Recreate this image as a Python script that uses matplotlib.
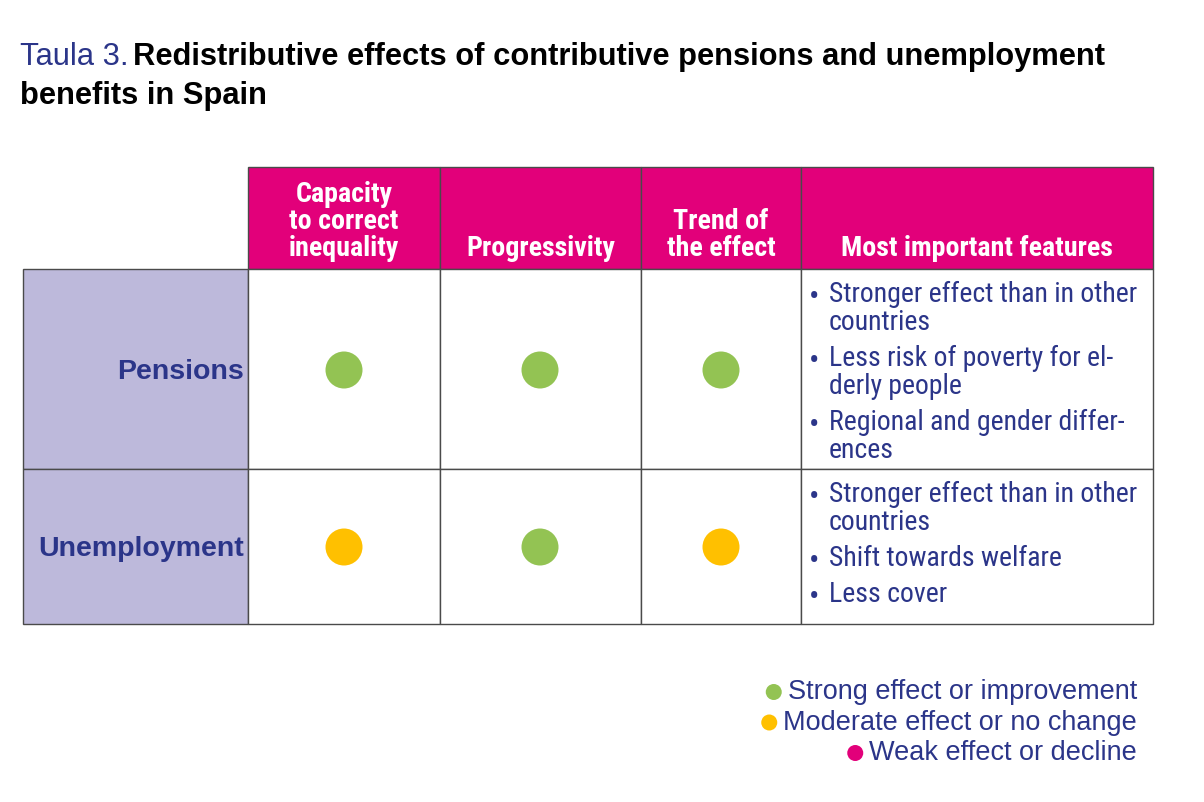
import os
import matplotlib
matplotlib.use("Agg")
import matplotlib.pyplot as plt
from matplotlib import font_manager
from matplotlib.font_manager import FontProperties
from matplotlib.patches import Rectangle, Circle

# data
columns = ["Capacity\nto correct\ninequality", "Progressivity", "Trend of\nthe effect", "Most important features"]
rows = ["Pensions", "Unemployment"]
ratings = [
    ["strong", "strong", "strong"],
    ["moderate", "strong", "moderate"],
]
features = [
    [["Stronger effect than in other", "countries"],
     ["Less risk of poverty for el-", "derly people"],
     ["Regional and gender differ-", "ences"]],
    [["Stronger effect than in other", "countries"],
     ["Shift towards welfare"],
     ["Less cover"]],
]
legend_keys = ["strong", "moderate", "weak"]
legend_labels = ["Strong effect or improvement", "Moderate effect or no change", "Weak effect or decline"]

COLORS = {"strong": "#93C353", "moderate": "#FFC000", "weak": "#E2007A"}
BLUE = "#2B3589"
MAGENTA = "#E2007A"
LAVENDER = "#BDB9DB"
GRID = "#4A4A4A"

# look for a condensed face among the installed files
installed = {os.path.basename(f.fname): f.fname for f in font_manager.fontManager.ttflist}
REG_FILES = ["RobotoCondensed-Regular.ttf", "LiberationSansNarrow-Regular.ttf",
             "NotoSans-Condensed.ttf", "DejaVuSansCondensed.ttf"]
BOLD_FILES = ["RobotoCondensed-Bold.ttf", "LiberationSansNarrow-Bold.ttf",
              "NotoSans-CondensedBold.ttf", "DejaVuSansCondensed-Bold.ttf"]


def narrow_font(names, size, bold):
    for n in names:
        if n in installed:
            return FontProperties(fname=installed[n], size=size)
    return FontProperties(family="DejaVu Sans", stretch="condensed",
                          weight="bold" if bold else "normal", size=size * 0.85)


NARROW_REG = narrow_font(REG_FILES, 20, False)
NARROW_BOLD = narrow_font(BOLD_FILES, 20.2, True)
BULLET = narrow_font(REG_FILES, 22, False)
SANS = "Liberation Sans"

# layout (pixels)
col_x = [23, 248, 440, 641, 801, 1153]
row_y = [167, 269, 469, 624]
dot_x = [344, 540, 721]
row_mid = [370, 547]

fig = plt.figure(figsize=(12.04, 8.02), dpi=100)
ax = fig.add_axes([0, 0, 1, 1])
ax.set_xlim(0, 1204)
ax.set_ylim(802, 0)
ax.axis("off")

# title
t1 = ax.text(20, 57, "Taula 3. ", fontsize=22.2, family=SANS, color=BLUE, va="center", ha="left")
fig.canvas.draw()
bb = t1.get_window_extent().transformed(ax.transData.inverted())
ax.text(bb.x1 - 4, 57, "Redistributive effects of contributive pensions and unemployment",
        fontsize=22.2, family=SANS, fontweight="bold", color="black", va="center", ha="left")
ax.text(20, 96, "benefits in Spain", fontsize=22.2, family=SANS, fontweight="bold",
        color="black", va="center", ha="left")

# header cells
for i in range(4):
    x0, x1 = col_x[i + 1], col_x[i + 2]
    ax.add_patch(Rectangle((x0, row_y[0]), x1 - x0, row_y[1] - row_y[0],
                           facecolor=MAGENTA, edgecolor=GRID, linewidth=1))
    lines = columns[i].split("\n")
    for k, line in enumerate(reversed(lines)):
        ax.text((x0 + x1) / 2, 249 - k * 27.5, line, fontproperties=NARROW_BOLD,
                color="white", ha="center", va="center")

# body rows
for r, name in enumerate(rows):
    y0, y1 = row_y[r + 1], row_y[r + 2]
    ax.add_patch(Rectangle((col_x[0], y0), col_x[1] - col_x[0], y1 - y0,
                           facecolor=LAVENDER, edgecolor=GRID, linewidth=1))
    yc = row_mid[r]
    ax.text(col_x[1] - 4, yc + 2, name, fontsize=20.5, family=SANS, fontweight="bold",
            color=BLUE, ha="right", va="center")
    for c in range(4):
        x0, x1 = col_x[c + 1], col_x[c + 2]
        ax.add_patch(Rectangle((x0, y0), x1 - x0, y1 - y0, facecolor="white",
                               edgecolor=GRID, linewidth=1))
    for c, rating in enumerate(ratings[r]):
        ax.add_patch(Circle((dot_x[c], yc), 18.5, facecolor=COLORS[rating], edgecolor="none"))
    y = y0 + 25
    for b, bullet in enumerate(features[r]):
        if b > 0:
            y += 36
        for k, line in enumerate(bullet):
            if k > 0:
                y += 28
            if k == 0:
                ax.text(809, y + 3, "\u2022", fontproperties=BULLET, color=BLUE,
                        ha="left", va="center")
            ax.text(829, y, line, fontproperties=NARROW_REG, color=BLUE,
                    ha="left", va="center")

# legend
for i, (key, label) in enumerate(zip(legend_keys, legend_labels)):
    y = 692 + i * 30.5
    t = ax.text(1137, y, label, fontsize=19.5, family=SANS, color=BLUE, ha="right", va="center")
    fig.canvas.draw()
    tb = t.get_window_extent().transformed(ax.transData.inverted())
    ax.add_patch(Circle((tb.x0 - 14, y), 8, facecolor=COLORS[key], edgecolor="none"))

fig.savefig("out.png", dpi=100)
